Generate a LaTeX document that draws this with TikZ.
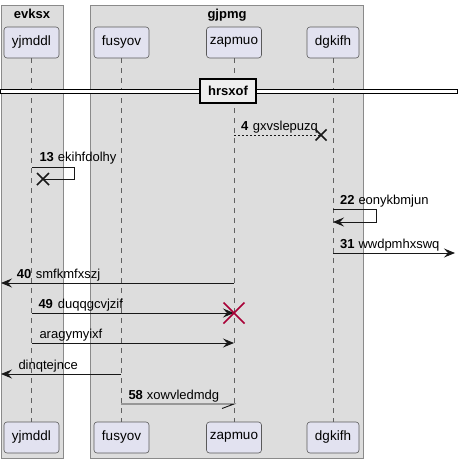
\documentclass[tikz,border=0pt]{standalone}
\usepackage{fontspec}
\setmainfont{Liberation Sans}
\usetikzlibrary{arrows.meta,calc}
\definecolor{grpbg}{HTML}{DDDDDD}
\definecolor{grpline}{HTML}{8A8A8A}
\definecolor{partbg}{HTML}{E2E2F0}
\definecolor{partline}{HTML}{5A5A5A}
\definecolor{ink}{HTML}{181818}
\definecolor{lifec}{HTML}{606060}
\definecolor{destroyred}{HTML}{A80036}
\definecolor{divbg}{HTML}{EEEEEE}
\tikzset{
  grpbox/.style={draw=grpline, fill=grpbg, line width=0.8pt},
  grptitle/.style={font=\fontsize{13}{15}\selectfont\bfseries, anchor=base},
  part/.style={draw=partline, fill=partbg, rounded corners=3pt, line width=0.6pt,
    minimum width=55pt, minimum height=31pt, inner sep=0pt, font=\fontsize{13.5}{15}\selectfont},
  life/.style={draw=lifec, line width=0.6pt, dash pattern=on 5pt off 5pt},
  msg/.style={draw=ink, line width=0.9pt},
  arr/.style={msg, -{Stealth[length=11pt,width=9pt,inset=4pt]}},
  lbl/.style={anchor=base west, inner sep=0pt, font=\fontsize{13}{15}\selectfont},
  num/.style={lbl, font=\fontsize{13}{15}\selectfont\bfseries},
  xmark/.style={draw=ink, line width=1.6pt},
  redx/.style={draw=destroyred, line width=1.6pt},
}
\begin{document}
\begin{tikzpicture}[x=1pt,y=-1pt]
\useasboundingbox (0,0) rectangle (461,463);
% group boxes
\draw[grpbox] (1,5) rectangle (63,458);
\draw[grpbox] (90,5) rectangle (363.5,458);
\node[grptitle] (g1) at (32,19) {evksx};
\node[grptitle] (g2) at (227,19) {gjpmg};
% participants
\node[part] (yt) at (31.5,42.5) {yjmddl};
\node[part] (ft) at (121.5,42.5) {fusyov};
\node[part] (zt) at (234,42.5) {zapmuo};
\node[part, minimum width=52pt] (dt) at (333,42.5) {dgkifh};
\node[part] (yb) at (31.5,437.5) {yjmddl};
\node[part] (fb) at (121.5,437.5) {fusyov};
\node[part] (zb) at (234,437.5) {zapmuo};
\node[part, minimum width=52pt] (db) at (333,437.5) {dgkifh};
\draw[life] (yt.south) -- (yb.north);
\draw[life] (ft.south) -- (fb.north);
\draw[life] (zt.south) -- (zb.north);
\draw[life] (dt.south) -- (db.north);
% divider
\draw[fill=white, draw=black, line width=0.8pt] (0,89) rectangle (457,93);
\node[draw=black, line width=2pt, fill=divbg, minimum width=56pt, minimum height=24pt,
  inner sep=0pt, font=\fontsize{13}{15}\selectfont\bfseries] (div) at (228,91) {hrsxof};
% message 4
\coordinate (m4a) at (234,135);
\coordinate (m4b) at (321,135);
\draw[msg, dash pattern=on 2pt off 2pt] (m4a) -- (m4b);
\node[num] (n4) at (241,130.5) {4};
\node[lbl] (l4) at (252.7,130.5) {gxvslepuzq};
% message 13
\coordinate (m13a) at (32,167);
\coordinate (m13r1) at (74,167);
\coordinate (m13r2) at (74,179);
\coordinate (m13x) at (43,179);
\draw[msg] (m13a) -- (m13r1) -- (m13r2) -- (m13x);
\node[num] (n13) at (39.3,161.5) {13};
\node[lbl] (l13) at (57.7,161.5) {ekihfdolhy};
% message 22
\coordinate (m22a) at (333,209);
\coordinate (m22r1) at (376,209);
\coordinate (m22r2) at (376,222);
\coordinate (m22b) at (333,222);
\draw[arr] (m22a) -- (m22r1) -- (m22r2) -- (m22b);
\node[num] (n22) at (340,204) {22};
\node[lbl] (l22) at (358.3,204) {eonykbmjun};
% message 31
\coordinate (m31a) at (333,253);
\coordinate (m31b) at (455,253);
\draw[arr] (m31a) -- (m31b);
\node[num] (n31) at (340,248) {31};
\node[lbl] (l31) at (358.3,248) {wwdpmhxswq};
% message 40
\coordinate (m40a) at (234,283);
\coordinate (m40b) at (1,283);
\draw[arr] (m40a) -- (m40b);
\node[num] (n40) at (16.7,278) {40};
\node[lbl] (l40) at (35.7,278) {smfkmfxszj};
% message 49
\coordinate (m49a) at (32,313);
\coordinate (m49b) at (234,313);
\draw[arr] (m49a) -- (m49b);
\node[num] (n49) at (38.3,308) {49};
\node[lbl] (l49) at (57.7,308) {duqqgcvjzif};
% message aragymyixf
\coordinate (maa) at (32,343);
\coordinate (mab) at (234,343);
\draw[arr] (maa) -- (mab);
\node[lbl] (la) at (39.3,338) {aragymyixf};
% message dinqtejnce
\coordinate (mda) at (121,374);
\coordinate (mdb) at (1,374);
\draw[arr] (mda) -- (mdb);
\node[lbl] (ld) at (18.3,369) {dinqtejnce};
% message 58
\coordinate (m58a) at (121,404);
\coordinate (m58b) at (234,404);
\coordinate (m58h) at (222,408.5);
\draw[msg] (m58a) -- (m58b) -- (m58h);
\node[num] (n58) at (128.3,399) {58};
\node[lbl] (l58) at (146.7,399) {xowvledmdg};
% x marks
\draw[xmark] ($(m13x)+(-6,-6)$) -- ($(m13x)+(6,6)$);
\draw[xmark] ($(m13x)+(-6,6)$) -- ($(m13x)+(6,-6)$);
\draw[xmark] ($(m4b)+(-5.5,-5.5)$) -- ($(m4b)+(5.5,5.5)$);
\draw[xmark] ($(m4b)+(-5.5,5.5)$) -- ($(m4b)+(5.5,-5.5)$);
\draw[redx] ($(m49b)+(-10.5,-10.5)$) -- ($(m49b)+(10.5,10.5)$);
\draw[redx] ($(m49b)+(-10.5,10.5)$) -- ($(m49b)+(10.5,-10.5)$);
\end{tikzpicture}
\end{document}
